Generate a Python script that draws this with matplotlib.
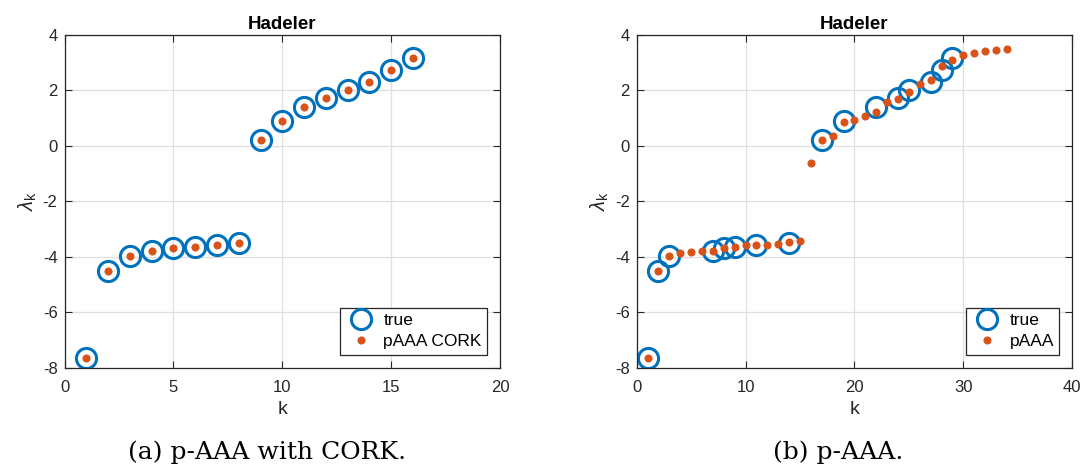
import matplotlib
matplotlib.use("Agg")
import matplotlib.pyplot as plt

# ---- data ----
true_vals = [-7.64, -4.52, -3.97, -3.79, -3.70, -3.64, -3.57, -3.49,
             0.21, 0.89, 1.39, 1.73, 2.00, 2.32, 2.73, 3.18]
k_cork = list(range(1, 17))
cork_vals = [-7.64, -4.52, -3.97, -3.79, -3.70, -3.64, -3.57, -3.49,
             0.21, 0.89, 1.39, 1.73, 2.00, 2.32, 2.73, 3.18]

k_true_b = [1, 2, 3, 7, 8, 9, 11, 14, 17, 19, 22, 24, 25, 27, 28, 29]
k_paaa = list(range(1, 35))
paaa_vals = [-7.64, -4.52, -3.97, -3.88, -3.84, -3.80, -3.78, -3.70, -3.63, -3.57,
             -3.56, -3.56, -3.54, -3.48, -3.44, -0.61, 0.22, 0.36, 0.86, 0.95,
             1.07, 1.22, 1.60, 1.69, 1.96, 2.23, 2.36, 2.89, 3.11, 3.29,
             3.34, 3.41, 3.45, 3.50]

yticks = [-8, -6, -4, -2, 0, 2, 4]
xticks_a = [0, 5, 10, 15, 20]
xticks_b = [0, 10, 20, 30, 40]
title = "Hadeler"
captions = ["(a) p-AAA with CORK.", "(b) p-AAA."]

BLUE = "#0072BD"
ORANGE = "#D95319"

plt.rcParams['font.family'] = ['Liberation Sans', 'DejaVu Sans']
plt.rcParams['mathtext.fontset'] = 'custom'
plt.rcParams['mathtext.rm'] = 'Liberation Sans'
plt.rcParams['mathtext.it'] = 'Liberation Sans:italic'

fig = plt.figure(figsize=(10.81, 4.71), dpi=100)
axa = fig.add_axes([0.0597, 0.2193, 0.4029, 0.7064])
axb = fig.add_axes([0.589, 0.2193, 0.4029, 0.7064])


def style(ax, xticks, xlim):
    ax.set_xlim(*xlim)
    ax.set_ylim(-8, 4)
    ax.set_xticks(xticks)
    ax.set_yticks(yticks)
    ax.set_xticklabels([str(t) for t in xticks])
    ax.set_yticklabels([str(t) for t in yticks])
    ax.grid(True, color='#dfdfdf', linewidth=0.9)
    ax.set_axisbelow(True)
    ax.tick_params(direction='in', top=True, right=True, length=5,
                   width=0.8, labelsize=12, colors='#262626')
    ax.tick_params(axis='x', pad=9)
    ax.tick_params(axis='y', pad=5)
    for s in ax.spines.values():
        s.set_color('#262626')
        s.set_linewidth(0.9)
    ax.set_title(title, fontsize=13.5, fontweight='bold', pad=4)
    ax.set_xlabel('k', fontsize=14, color='#262626', labelpad=4)
    ax.set_ylabel(r'$\lambda_{\mathrm{k}}$', fontsize=14.5, color='#262626', labelpad=3)


axa.plot(k_cork, true_vals, 'o', mfc='none', mec=BLUE, ms=14.5, mew=2.2, label='true')
axa.plot(k_cork, cork_vals, 'o', color=ORANGE, ms=4.8, label='pAAA CORK')
style(axa, xticks_a, (0, 20))

axb.plot(k_true_b, true_vals, 'o', mfc='none', mec=BLUE, ms=14.5, mew=2.2, label='true')
axb.plot(k_paaa, paaa_vals, 'o', color=ORANGE, ms=4.8, label='pAAA')
style(axb, xticks_b, (0, 40))

for ax in (axa, axb):
    leg = ax.legend(loc='lower right', fancybox=False, framealpha=1,
                    edgecolor='#262626', fontsize=12.5, borderpad=0.3,
                    handletextpad=0.4, labelspacing=0.35, borderaxespad=0.75,
                    handlelength=1.8)
    leg.get_frame().set_linewidth(0.9)

fig.text(0.2475, 0.04, captions[0], ha='center', va='center',
         fontsize=18, family=['DejaVu Serif'])
fig.text(0.775, 0.04, captions[1], ha='center', va='center',
         fontsize=18, family=['DejaVu Serif'])

fig.savefig('out.png', dpi=100)
